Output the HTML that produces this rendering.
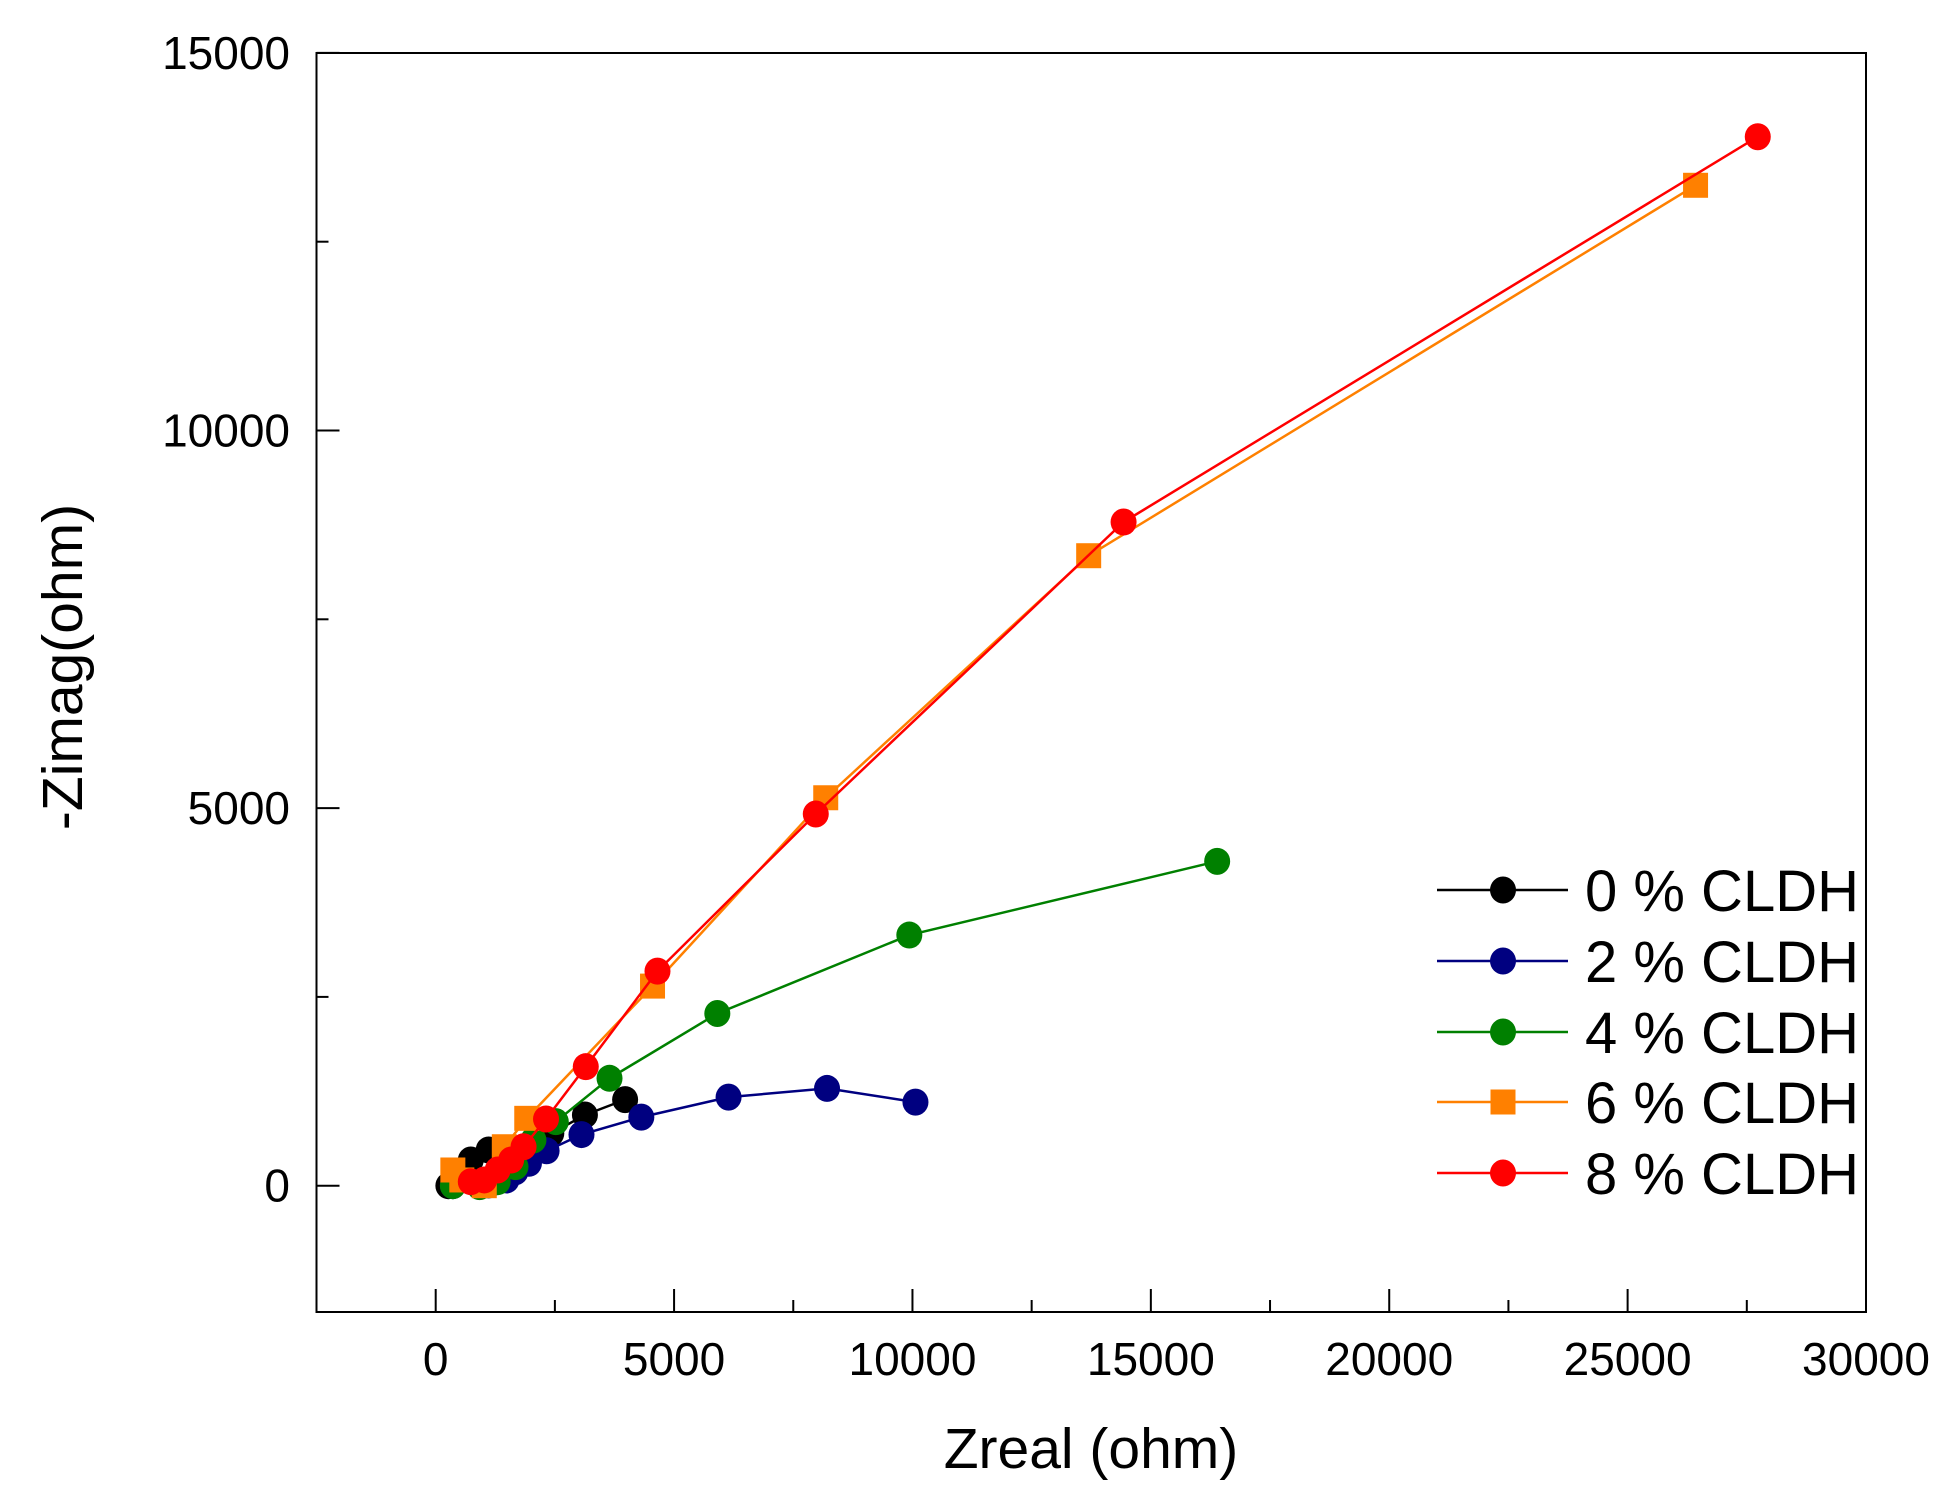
<!DOCTYPE html>
<html><head><meta charset="utf-8"><style>
html,body{margin:0;padding:0;background:#fff;}
svg{display:block;font-family:"Liberation Sans",Arial,sans-serif;}
</style></head><body>
<svg id="chart" width="1954" height="1509" viewBox="0 0 1954 1509" xmlns="http://www.w3.org/2000/svg">
<g id="axes"></g>
<g id="series"></g>
<g id="legend"></g>
<text x="1091" y="1468" font-size="57" text-anchor="middle">Zreal (ohm)</text>
<text transform="translate(82,667) rotate(-90)" font-size="57" text-anchor="middle">-Zimag(ohm)</text>
</svg>
<script>
const xTicks = [0,5000,10000,15000,20000,25000,30000];
const yTicks = [0,5000,10000,15000];
const seriesNames = ["0 % CLDH","2 % CLDH","4 % CLDH","6 % CLDH","8 % CLDH"];
const x0 = [266,736,1111,2425,3130,3973];
const y0 = [0,340,473,694,936,1140];
const x2 = [360,1111,1485,1674,1956,2326,3058,4313,6143,8208,10063];
const y2 = [0,10,76,185,297,462,677,908,1173,1288,1107];
const x4 = [360,922,1299,1674,2050,2519,3646,5907,9934,16391];
const y4 = [0,-13,53,252,605,848,1422,2280,3319,4295];
const x6 = [360,548,1019,1439,1910,4548,8181,13696,26425];
const y6 = [208,76,0,516,892,2643,5137,8342,13247];
const x8 = [736,1019,1299,1582,1843,2314,3148,4652,7972,14428,27730];
const y8 = [53,76,208,340,516,883,1576,2841,4922,8788,13890];

const L=316.5,R=1866,T=53,B=1312, XMIN=-2500,XMAX=30000, Y0PX=1185.7, YPER=377.6/5000;
function sx(v){return L+(v-XMIN)/(XMAX-XMIN)*(R-L);}
function sy(v){return Y0PX-v*YPER;}
const NS="http://www.w3.org/2000/svg";
function mk(tag,attrs,parent){const e=document.createElementNS(NS,tag);for(const k in attrs)e.setAttribute(k,attrs[k]);parent.appendChild(e);return e;}
const axes=document.getElementById('axes');
const frame=mk('rect',{x:L,y:T,width:R-L,height:B-T,fill:'none',stroke:'#000','stroke-width':2},axes);


xTicks.forEach((v,i)=>{
  const t=mk('line',{x1:sx(v),x2:sx(v),y1:B,y2:B-23,stroke:'#000','stroke-width':2},axes);
  
  
  if(i<xTicks.length-1){const m=mk('line',{x1:sx(v+2500),x2:sx(v+2500),y1:B,y2:B-12,stroke:'#000','stroke-width':2},axes);
  
  }
  const lb=mk('text',{x:sx(v),y:1375,'font-size':46,'text-anchor':'middle'},axes);lb.textContent=v;
  
  
});
yTicks.forEach((v,i)=>{
  const t=mk('line',{x1:L,x2:L+23,y1:sy(v),y2:sy(v),stroke:'#000','stroke-width':2},axes);
  
  
  if(i<yTicks.length-1){const m=mk('line',{x1:L,x2:L+12,y1:sy(v+2500),y2:sy(v+2500),stroke:'#000','stroke-width':2},axes);
  
  }
  const lb=mk('text',{x:290,y:sy(v)+16,'font-size':46,'text-anchor':'end'},axes);lb.textContent=v;
  
  
});
const colors=['#000000','#000080','#008000','#FF8000','#FF0000'];
const xs=[x0,x2,x4,x6,x8], ys=[y0,y2,y4,y6,y8], shapes=['c','c','c','s','c'];
const sg=document.getElementById('series');
function marker(g,shape,cx,cy,col){
  if(shape==='s') return mk('rect',{x:cx-12.5,y:cy-12.5,width:25,height:25,fill:col},g);
  return mk('ellipse',{cx:cx,cy:cy,rx:13,ry:13.5,fill:col},g);
}
xs.forEach((xa,si)=>{
  const g=mk('g',{},sg);
  
  
  const pts=xa.map((v,j)=>sx(v)+','+sy(ys[si][j])).join(' ');
  const pl=mk('polyline',{points:pts,fill:'none',stroke:colors[si],'stroke-width':2.5},g);
  
  
  xa.forEach((v,j)=>{
    const m=marker(g,shapes[si],sx(v),sy(ys[si][j]),colors[si]);
    
    
  });
});
const lg=document.getElementById('legend');
const rowsY=[890,961,1032,1102,1173];
seriesNames.forEach((n,i)=>{
  const g=mk('g',{},lg);
  
  
  mk('line',{x1:1437,x2:1568,y1:rowsY[i],y2:rowsY[i],stroke:colors[i],'stroke-width':2.5},g);
  marker(g,shapes[i],1503,rowsY[i],colors[i]);
  const t=mk('text',{x:1585,y:rowsY[i]+21,'font-size':58},g);t.textContent=n;
});
</script>
</body></html>
